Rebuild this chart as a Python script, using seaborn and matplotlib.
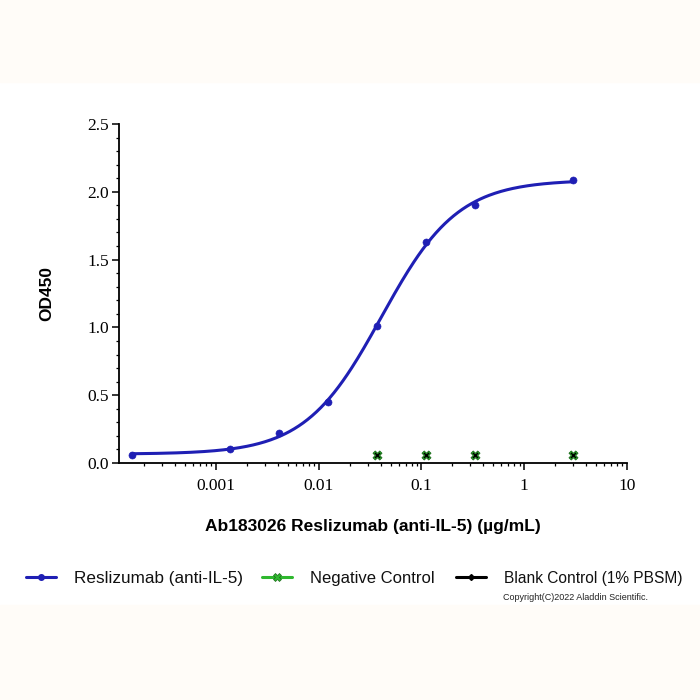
import numpy as np
import pandas as pd
import matplotlib
matplotlib.use("Agg")
import matplotlib.pyplot as plt
import seaborn as sns
from matplotlib.lines import Line2D
from matplotlib.patches import Rectangle
from matplotlib.ticker import LogLocator, MultipleLocator, NullFormatter

# values
conc = [3.0, 0.333, 0.111, 0.037, 0.0123, 0.00412, 0.00137, 0.000152]
od_resli = [2.09, 1.90, 1.63, 1.01, 0.45, 0.22, 0.10, 0.062]
ctrl_conc = [3.0, 0.333, 0.111, 0.037]
od_neg = [0.060, 0.058, 0.060, 0.060]
od_blank = [0.058, 0.056, 0.058, 0.058]
xtick_vals = [0.001, 0.01, 0.1, 1, 10]
xtick_labels = ["0.001", "0.01", "0.1", "1", "10"]
ytick_vals = [0.0, 0.5, 1.0, 1.5, 2.0, 2.5]
ytick_labels = ["0.0", "0.5", "1.0", "1.5", "2.0", "2.5"]
series_names = ["Reslizumab (anti-IL-5)", "Negative Control", "Blank Control (1% PBSM)"]

BLUE = "#1f1fb4"
GREEN = "#2fb82f"


def fit_4pl(x, y):
    # grid search on ec50 / hill, bottom and top solved by least squares
    x = np.asarray(x)
    y = np.asarray(y)
    best = None
    for lec in np.linspace(-3, 0, 301):
        for h in np.linspace(0.5, 2.5, 201):
            s = 1.0 / (1.0 + (10 ** lec / x) ** h)
            A = np.column_stack([1 - s, s])
            coef, *_ = np.linalg.lstsq(A, y, rcond=None)
            err = np.sum((A @ coef - y) ** 2)
            if best is None or err < best[0]:
                best = (err, coef[0], coef[1], 10 ** lec, h)
    return best[1:]


bottom, top, ec50, hill = fit_4pl(conc, od_resli)
xs = np.logspace(np.log10(min(conc)), np.log10(max(conc)), 300)
curve = pd.DataFrame({"conc": xs,
                      "od": bottom + (top - bottom) / (1 + (ec50 / xs) ** hill)})
pts = pd.DataFrame({"conc": conc, "od": od_resli})
ctrl = pd.DataFrame({"conc": ctrl_conc, "neg": od_neg, "blank": od_blank})

sns.set_theme(style="ticks")
plt.rcParams["font.family"] = ["Liberation Sans", "DejaVu Sans"]

fig = plt.figure(figsize=(7, 7), dpi=100)
fig.patch.set_facecolor("white")
fig.patches.append(Rectangle((0, 1 - 82 / 700), 1, 82 / 700, transform=fig.transFigure,
                             color="#fffcf8", zorder=-10))
fig.patches.append(Rectangle((0, 0), 1, 95 / 700, transform=fig.transFigure,
                             color="#fffcf8", zorder=-10))

ax = fig.add_axes([119 / 700, 1 - 463 / 700, 508 / 700, 339 / 700])
ax.set_facecolor("none")

sns.lineplot(data=curve, x="conc", y="od", ax=ax, color=BLUE, lw=2.2,
             estimator=None, sort=False)
sns.scatterplot(data=pts, x="conc", y="od", ax=ax, color=BLUE, s=26,
                edgecolor=BLUE, zorder=5)
sns.scatterplot(data=ctrl, x="conc", y="neg", ax=ax, color=GREEN, marker="X",
                s=42, edgecolor="#1a6a1a", linewidth=0.6, zorder=6)
sns.scatterplot(data=ctrl, x="conc", y="blank", ax=ax, color="black", marker="x",
                s=14, linewidth=1.1, zorder=7)

ax.set_xscale("log")
ax.set_xlim(1.14e-4, 10)
ax.set_ylim(0, 2.5)
ax.set_xticks(xtick_vals, labels=xtick_labels)
ax.xaxis.set_minor_locator(LogLocator(base=10, subs=np.arange(2, 10), numticks=20))
ax.xaxis.set_minor_formatter(NullFormatter())
ax.set_yticks(ytick_vals, labels=ytick_labels)
ax.yaxis.set_minor_locator(MultipleLocator(0.1))

for sp in ["top", "right"]:
    ax.spines[sp].set_visible(False)
for sp in ["left", "bottom"]:
    ax.spines[sp].set_color("black")
    ax.spines[sp].set_linewidth(1.3)

ax.tick_params(axis="both", which="major", direction="out", length=5, width=1.1,
               color="black", labelcolor="black", labelsize=12.5)
ax.tick_params(axis="both", which="minor", direction="out", length=2.5, width=0.9,
               color="black")
ax.tick_params(axis="x", which="major", pad=6)
ax.tick_params(axis="y", which="major", pad=2)
for lab in ax.get_xticklabels() + ax.get_yticklabels():
    lab.set_family("Liberation Serif")

ax.set_xlabel("Ab183026 Reslizumab (anti-IL-5) (\u00b5g/mL)", fontsize=12.5,
              fontweight="bold", color="black", labelpad=18)
ax.set_ylabel("OD450", fontsize=12.5, fontweight="bold", color="black", labelpad=24)

handles = [
    Line2D([], [], color=BLUE, lw=2.2, marker="o", ms=4),
    Line2D([], [], color=GREEN, lw=2.2, marker="X", ms=6, mec="#1a6a1a", mew=0.5),
    Line2D([], [], color="black", lw=2.2, marker="D", ms=3),
]
anchors = [26 / 700, 262 / 700, 456 / 700]
sizes = [12.3, 12, 11.2]
for h, name, xa, fs in zip(handles, series_names, anchors, sizes):
    lg = fig.legend([h], [name], loc="center left", bbox_to_anchor=(xa, 1 - 578 / 700),
                    frameon=False, fontsize=fs, handlelength=30 / (fs * 100 / 72),
                    handletextpad=18 / (fs * 100 / 72), borderaxespad=0, borderpad=0)
    for t in lg.get_texts():
        t.set_color("#111111")

fig.text(503 / 700, 1 - 598 / 700, "Copyright(C)2022 Aladdin Scientific.", fontsize=6.5,
         ha="left", va="center", color="#222222")

fig.savefig("out.png", dpi=100)
